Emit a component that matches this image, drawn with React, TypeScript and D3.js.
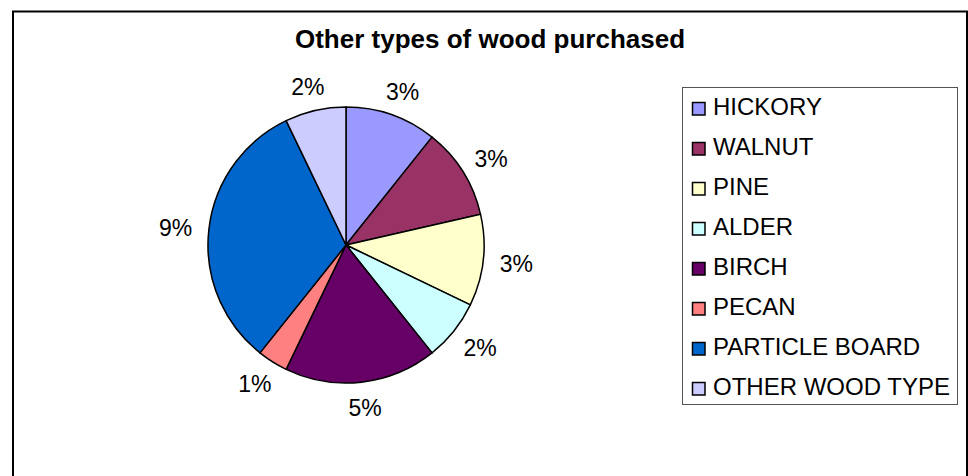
import * as d3 from 'd3';
import { useEffect, useRef } from 'react';

const woodTypes = ['HICKORY', 'WALNUT', 'PINE', 'ALDER', 'BIRCH', 'PECAN', 'PARTICLE BOARD', 'OTHER WOOD TYPE'];
const percents = [3, 3, 3, 2, 5, 1, 9, 2];
const sliceColors = ['#9999FF', '#993366', '#FFFFCC', '#CCFFFF', '#660066', '#FF8080', '#0066CC', '#CCCCFF'];

const WoodPie = () => {
  const ref = useRef<SVGSVGElement | null>(null);

  useEffect(() => {
    const width = 968;
    const height = 476;
    const cx = 346;
    const cy = 245;
    const radius = 138;
    const font = 'Arial, "Liberation Sans", sans-serif';

    const svg = d3.select(ref.current).attr('width', width).attr('height', height);
    svg.selectAll('*').remove();

    svg.append('rect').attr('width', width).attr('height', height).attr('fill', '#fff');

    // outer chart frame
    svg
      .append('rect')
      .attr('x', 13)
      .attr('y', 11.5)
      .attr('width', 954)
      .attr('height', 480)
      .attr('fill', 'none')
      .attr('stroke', '#000')
      .attr('stroke-width', 2);

    svg
      .append('text')
      .attr('x', 490)
      .attr('y', 48)
      .attr('text-anchor', 'middle')
      .attr('font-family', font)
      .attr('font-weight', 'bold')
      .attr('font-size', 26)
      .text('Other types of wood purchased');

    const pie = d3
      .pie<number>()
      .value((d) => d)
      .sort(null);
    const arcs = pie(percents);
    const arc = d3.arc<d3.PieArcDatum<number>>().innerRadius(0).outerRadius(radius);

    const g = svg.append('g').attr('transform', `translate(${cx},${cy})`);

    g.selectAll('path')
      .data(arcs)
      .join('path')
      .attr('d', arc)
      .attr('fill', (_, i) => sliceColors[i])
      .attr('stroke', '#000')
      .attr('stroke-width', 1.5)
      .attr('stroke-linejoin', 'round');

    // percentage labels outside the pie, pushed out by half the label box
    const labelR = 155;
    const labelW = 33;
    const labelH = 17;
    const mid = (d: d3.PieArcDatum<number>) => (d.startAngle + d.endAngle) / 2;
    g.selectAll('text.pct')
      .data(arcs)
      .join('text')
      .attr('class', 'pct')
      .attr('font-family', font)
      .attr('font-size', 23)
      .attr('text-anchor', 'middle')
      .attr('dominant-baseline', 'central')
      .attr('x', (d) => (labelR + labelW / 2) * Math.sin(mid(d)))
      .attr('y', (d) => -(labelR + labelH / 2) * Math.cos(mid(d)) + 1)
      .text((d) => `${d.data}%`);

    // legend
    const legend = svg.append('g');
    legend
      .append('rect')
      .attr('x', 682.5)
      .attr('y', 87.5)
      .attr('width', 275)
      .attr('height', 317)
      .attr('fill', '#fff')
      .attr('stroke', '#555')
      .attr('stroke-width', 1);

    const rows = legend
      .selectAll('g.row')
      .data(woodTypes)
      .join('g')
      .attr('class', 'row')
      .attr('transform', (_, i) => `translate(0,${i * 40})`);

    rows
      .append('rect')
      .attr('x', 692.5)
      .attr('y', 102.5)
      .attr('width', 12.5)
      .attr('height', 12.5)
      .attr('fill', (_, i) => sliceColors[i])
      .attr('stroke', '#000')
      .attr('stroke-width', 1.5);

    rows
      .append('text')
      .attr('x', 713)
      .attr('y', 115)
      .attr('font-family', font)
      .attr('font-size', 24)
      .text((d) => d);
  }, []);

  return <svg ref={ref} style={{ position: 'absolute', left: 0, top: 0, display: 'block' }}></svg>;
};

export default function App() {
  return <WoodPie />;
}
